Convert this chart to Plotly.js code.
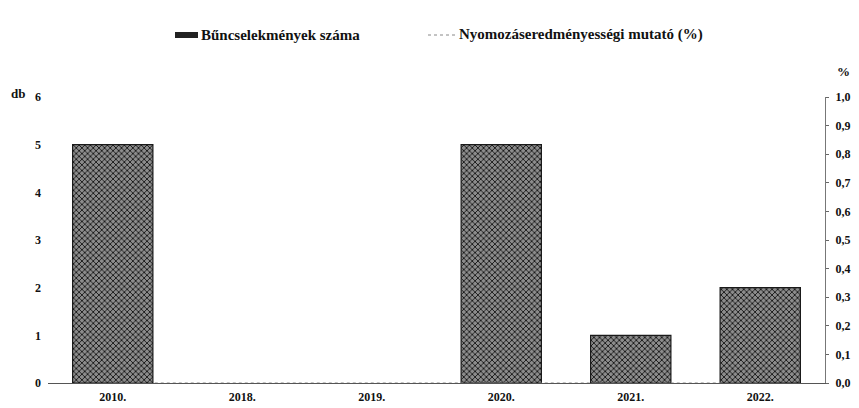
<!DOCTYPE html>
<html>
<head>
<meta charset="utf-8">
<script src="https://cdn.plot.ly/plotly-3.0.1.min.js"></script>
<style>html,body{margin:0;padding:0;background:#fff;}#chart{width:859px;height:408px;}</style>
</head>
<body>
<div id="chart"></div>
<script>
const years = ['2010.', '2018.', '2019.', '2020.', '2021.', '2022.'];
const crimes = [5, 0, 0, 5, 1, 2];
const rate = [0, 0, 0, 0, 0, 0];
const leftTicks = [0, 1, 2, 3, 4, 5, 6];
const rightTicks = [0, 0.1, 0.2, 0.3, 0.4, 0.5, 0.6, 0.7, 0.8, 0.9, 1.0];
const seriesNames = ['Bűncselekmények száma', 'Nyomozáseredményességi mutató (%)'];

const FONT = 'Liberation Serif, DejaVu Serif, serif';

const traces = [
  {
    type: 'bar', x: years, y: crimes, name: seriesNames[0],
    width: 0.62,
    marker: {
      color: '#666666',
      line: {color: '#1a1a1a', width: crimes.map(v => v > 0 ? 1.2 : 0)},
      pattern: {shape: 'x', fgcolor: '#151515', bgcolor: '#8c8c8c', size: 4, solidity: 0.4}
    },
    yaxis: 'y', showlegend: false
  },
  {
    type: 'scatter', mode: 'lines', x: years, y: rate, name: seriesNames[1],
    line: {color: '#888888', width: 1, dash: 'dot'},
    yaxis: 'y2', cliponaxis: false, showlegend: false
  }
];

const layout = {
  width: 859, height: 408,
  margin: {l: 48, r: 34, t: 97, b: 25},
  paper_bgcolor: '#ffffff', plot_bgcolor: '#ffffff',
  separators: ',.',
  font: {family: FONT, size: 11, color: '#111'},
  showlegend: false,
  xaxis: {
    type: 'category', showgrid: false, zeroline: false,
    showline: true, linecolor: '#555', linewidth: 1,
    ticks: '', tickfont: {family: FONT, size: 12, weight: 'bold', color: '#111'},
    ticklabelstandoff: 3
  },
  yaxis: {
    range: [0, 6], tickvals: leftTicks, showgrid: false, zeroline: false,
    showline: false, ticks: '', ticklabelstandoff: 6,
    tickfont: {family: FONT, size: 12, weight: 'bold', color: '#111'}
  },
  yaxis2: {
    overlaying: 'y', side: 'right', range: [0, 1], tickvals: rightTicks,
    tickformat: '.1f', showgrid: false, zeroline: false,
    showline: true, linecolor: '#777', linewidth: 1,
    ticks: 'outside', ticklen: 3, tickcolor: '#666', ticklabelstandoff: 4,
    tickfont: {family: FONT, size: 12, weight: 'bold', color: '#111'}
  },
  shapes: [
    {type: 'rect', xref: 'paper', yref: 'paper',
     x0: (175 - 48) / 777, x1: (198 - 48) / 777, y0: (408 - 25 - 38) / 286, y1: (408 - 25 - 32) / 286,
     fillcolor: '#222', line: {width: 0}},
    {type: 'line', xref: 'paper', yref: 'paper',
     x0: (428 - 48) / 777, x1: (455 - 48) / 777, y0: (408 - 25 - 35) / 286, y1: (408 - 25 - 35) / 286,
     line: {color: '#888', width: 1, dash: 'dot'}}
  ],
  annotations: [
    {text: seriesNames[0], xref: 'paper', yref: 'paper', x: (199 - 48) / 777, y: (408 - 25 - 35) / 286,
     xanchor: 'left', yanchor: 'middle', showarrow: false,
     font: {family: FONT, size: 15, weight: 'bold', color: '#111'}},
    {text: seriesNames[1], xref: 'paper', yref: 'paper', x: (457 - 48) / 777, y: (408 - 25 - 35) / 286,
     xanchor: 'left', yanchor: 'middle', showarrow: false,
     font: {family: FONT, size: 15, weight: 'bold', color: '#111'}},
    {text: 'db', xref: 'paper', yref: 'paper', x: (18 - 48) / 777, y: (408 - 25 - 93) / 286, xanchor: 'center', yanchor: 'middle',
     showarrow: false, font: {family: FONT, size: 13, weight: 'bold', color: '#111'}},
    {text: '%', xref: 'paper', yref: 'paper', x: (843 - 48) / 777, y: (408 - 25 - 72) / 286, xanchor: 'center', yanchor: 'middle',
     showarrow: false, font: {family: FONT, size: 13, weight: 'bold', color: '#111'}}
  ]
};

Plotly.newPlot('chart', traces, layout, {displayModeBar: false, staticPlot: true});
</script>
</body>
</html>
